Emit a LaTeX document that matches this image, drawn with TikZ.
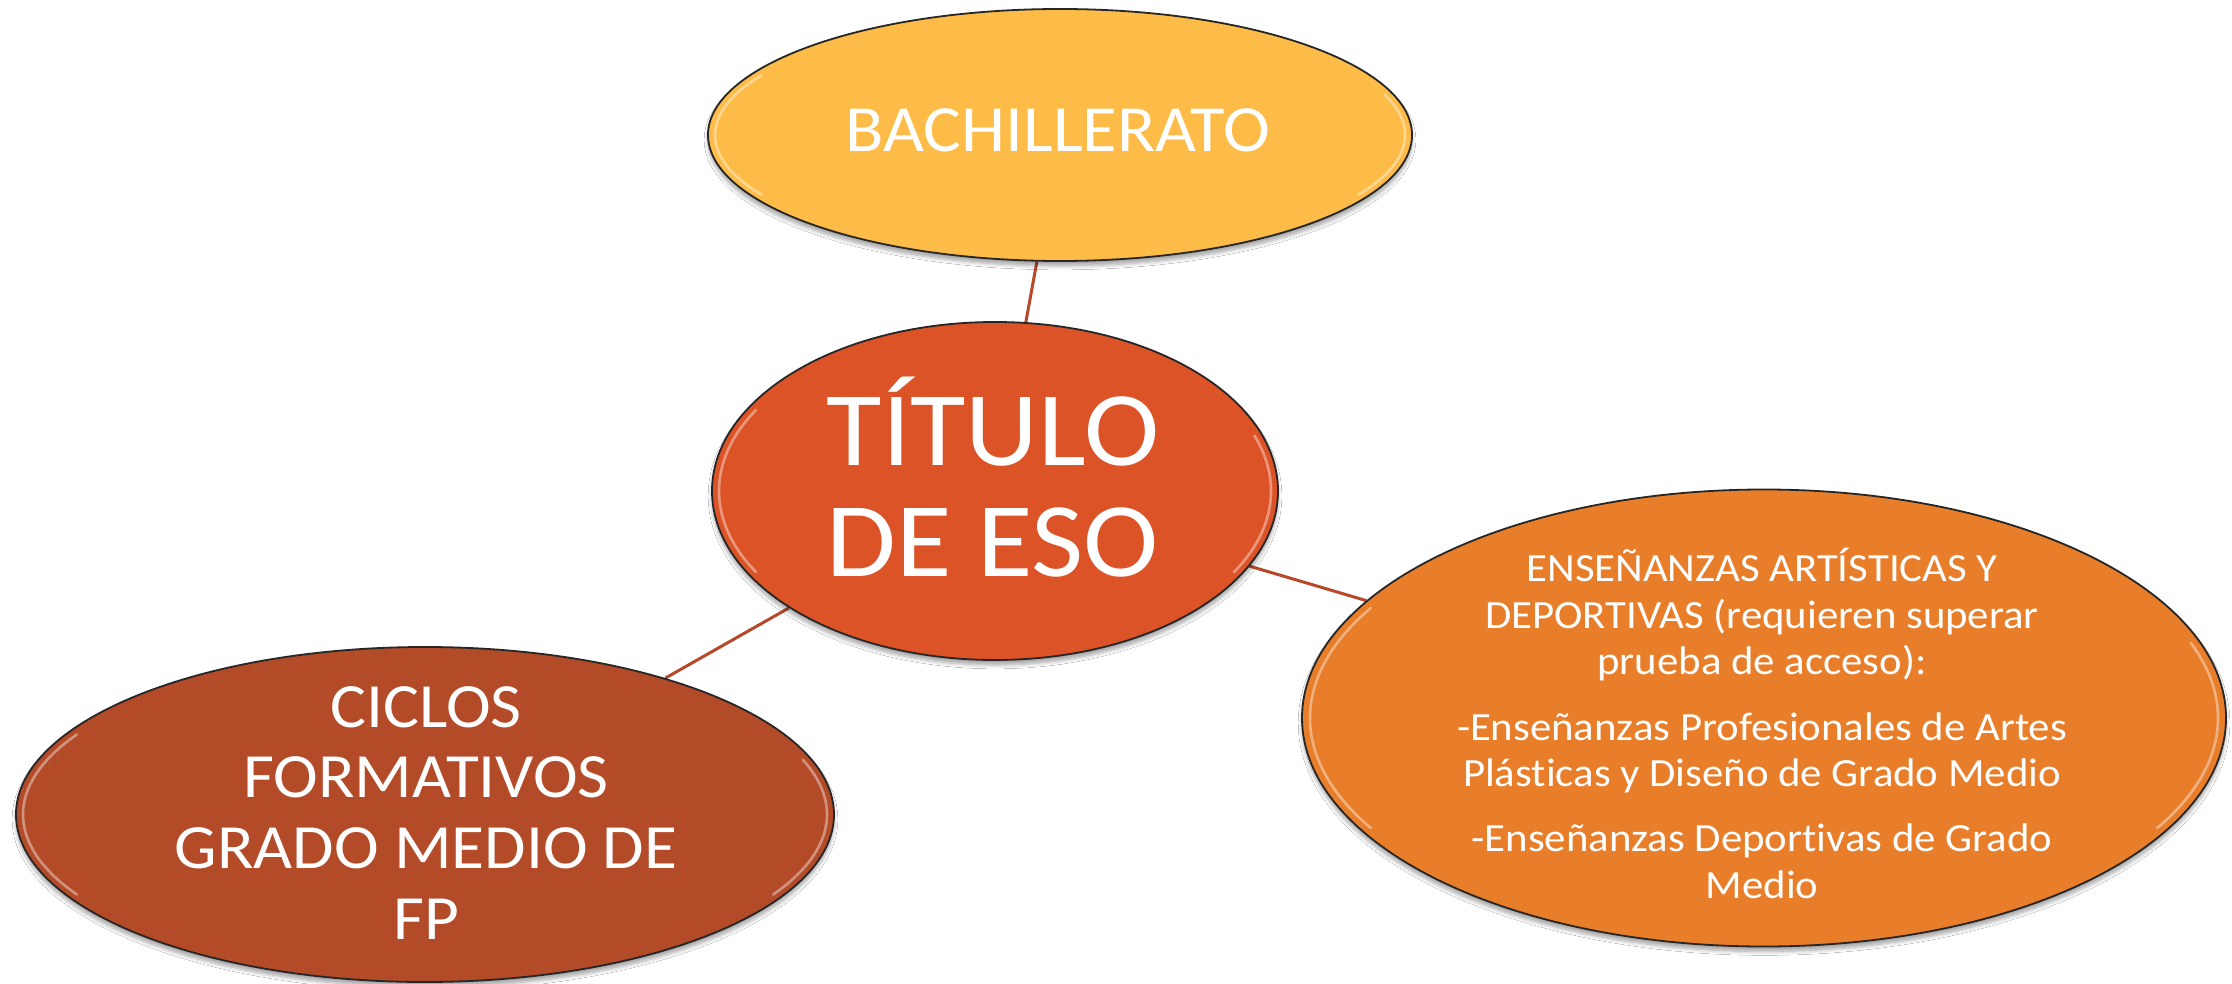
\documentclass[tikz,border=0pt]{standalone}
\usepackage{fontspec}
\setmainfont{Carlito}[FakeStretch=1.07,RawFeature=-liga]
\usetikzlibrary{shapes.geometric,shadows.blur,backgrounds}
\definecolor{bachcol}{RGB}{253,187,72}
\definecolor{titcol}{RGB}{220,83,40}
\definecolor{artcol}{RGB}{232,125,42}
\definecolor{ciccol}{RGB}{179,74,40}
\definecolor{linkcol}{RGB}{184,72,42}
\tikzset{
  bubble/.style={ellipse, draw=black!85, line width=0.9pt, inner sep=0pt,
    blur shadow={shadow xshift=0pt, shadow yshift=-2.5pt, shadow blur steps=6, shadow opacity=35}},
  bubbletext/.style={text=white, align=center, anchor=base, inner sep=0pt},
  link/.style={draw=linkcol, line width=1.5pt},
  gloss/.style={draw=white, opacity=0.4, line width=1.3pt, line cap=round},
}
\newcommand{\glossy}[4]{%
  \draw[gloss] (#1,#2) ++(150:#3 and #4) arc[start angle=150,end angle=210,x radius=#3,y radius=#4];
  \draw[gloss] (#1,#2) ++(-30:#3 and #4) arc[start angle=-30,end angle=20,x radius=#3,y radius=#4];}
\begin{document}
\begin{tikzpicture}[x=0.5pt,y=-0.5pt]
\useasboundingbox (0,0) rectangle (2232,984);

% ellipses
\node[bubble, fill=bachcol, minimum width=352pt, minimum height=126pt] (bach) at (1060,135) {};
\node[bubble, fill=titcol, minimum width=283pt, minimum height=169pt] (tit) at (995,491) {};
\node[bubble, fill=artcol, minimum width=462pt, minimum height=228.5pt] (art) at (1764,718) {};
\node[bubble, fill=ciccol, minimum width=409pt, minimum height=167.5pt] (cic) at (425,814.5) {};

% glossy highlights
\glossy{1060}{135}{172.5pt}{59.5pt}
\glossy{995}{491}{138pt}{81pt}
\glossy{1764}{718}{227pt}{110pt}
\glossy{425}{814.5}{201pt}{80pt}

% connectors
\begin{scope}[on background layer]
  \fill[white] (0,0) rectangle (2232,984);
  \draw[link] (tit) -- (bach);
  \draw[link] (tit) -- (cic);
  \draw[link] (tit) -- (art);
\end{scope}

% texts (multi-line nodes: base = last line)
\node[bubbletext, font=\fontsize{33}{40}\selectfont] (bachT) at (1058,152) {BACHILLERATO};
\node[bubbletext, font=\fontsize{53}{55.5}\selectfont] (titT) at (993,576) {TÍTULO\\DE ESO};
\node[bubbletext, font=\fontsize{20}{23.3}\selectfont] (artT) at (1762,898)
  {ENSEÑANZAS ARTÍSTICAS Y\\DEPORTIVAS (requieren superar\\prueba de acceso):\\[9.5pt]-Enseñanzas Profesionales de Artes\\Plásticas y Diseño de Grado Medio\\[9pt]-Enseñanzas Deportivas de Grado\\Medio};
\node[bubbletext, font=\fontsize{31.5}{35.3}\selectfont] (cicT) at (426,939)
  {CICLOS\\FORMATIVOS\\GRADO MEDIO DE\\FP};
\end{tikzpicture}
\end{document}
